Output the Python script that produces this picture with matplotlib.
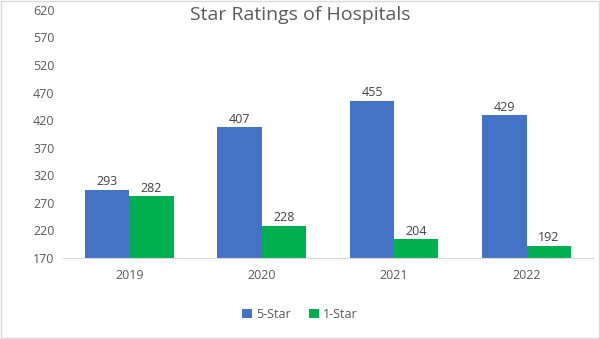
import matplotlib.pyplot as plt
import numpy as np

years = ["2019", "2020", "2021", "2022"]
five_star = [293, 407, 455, 429]
one_star = [282, 228, 204, 192]

plt.rcParams['font.family'] = ['Open Sans', 'DejaVu Sans']

fig = plt.figure(figsize=(6, 3.39), dpi=100)
ax = fig.add_axes([0.105, 0.239, 0.883, 0.732])

x = np.arange(len(years))
w = 0.335
ax.bar(x - w / 2, np.array(five_star) - 170, w, bottom=170, color="#4472C4", label="5-Star")
ax.bar(x + w / 2, np.array(one_star) - 170, w, bottom=170, color="#00B050", label="1-Star")

# value labels
for xs, vals in [(x - w / 2, five_star), (x + w / 2, one_star)]:
    for xi, v in zip(xs, vals):
        ax.text(xi, v + 3, str(v), ha="center", va="bottom", fontsize=9, color="#404040")

ax.set_xlim(-0.5, 3.5)
ax.set_ylim(170, 620)
ax.set_yticks(range(170, 621, 50))
ax.set_xticks(x)
ax.set_xticklabels(years)
ax.tick_params(axis="both", length=0, labelsize=9, labelcolor="#595959")
ax.tick_params(axis="x", pad=8)
ax.tick_params(axis="y", pad=6)
for s in ["top", "right", "left"]:
    ax.spines[s].set_visible(False)
ax.spines["bottom"].set_color("#D9D9D9")

fig.text(0.5, 0.955, "Star Ratings of Hospitals", ha="center", va="center", fontsize=14, color="#595959")

fig.legend(loc="center", bbox_to_anchor=(0.5, 0.073), ncol=2, frameon=False, fontsize=9,
           handlelength=0.8, handleheight=0.8, handletextpad=0.3, columnspacing=1.5, labelcolor="#595959")

fig.patches.append(plt.Rectangle((0.002, 0.002), 0.996, 0.995, transform=fig.transFigure,
                                 fill=False, edgecolor="#D9D9D9", linewidth=1))

fig.savefig("out.png", dpi=100)
